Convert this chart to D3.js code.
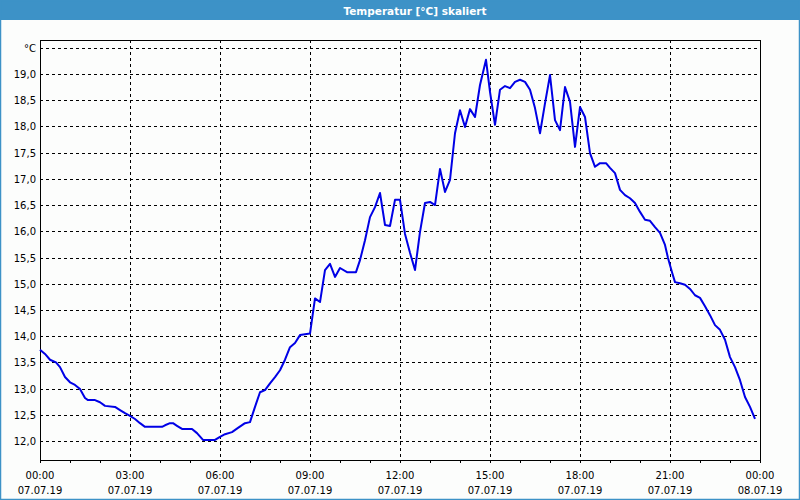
<!DOCTYPE html>
<html><head><meta charset="utf-8">
<script src="https://cdn.jsdelivr.net/npm/d3@7"></script>
<style>
html,body{margin:0;padding:0;background:#fcfdfc;}
svg{display:block;}
</style></head>
<body><svg id="c" width="800" height="500"></svg>
<script>
const title = "Temperatur [°C] skaliert";
// minutes since 07.07.19 00:00
const times = [0,10,20,32,40,50,60,70,80,90,96,110,120,130,150,160,170,180,190,200,210,230,244,250,260,266,274,284,304,314,326,350,
  360,370,384,396,410,420,430,440,450,460,470,480,490,500,510,520,540,550,560,570,580,590,600,614,632,
  640,650,660,670,680,690,700,710,720,730,740,750,760,770,780,790,800,810,820,830,840,850,860,870,880,892,
  900,910,920,930,940,950,960,970,980,990,1000,1010,1020,1030,1040,1050,1060,1070,1080,1090,1100,1110,1120,1132,
  1140,1150,1160,1170,1180,1190,1200,1210,1220,1230,1240,1250,1256,1264,1270,1280,1290,1300,1310,1320,1330,1340,1350,1360,1370,1380,1390,1400,1410,1420,1430];
const temps = [13.74,13.66,13.55,13.50,13.41,13.22,13.12,13.07,12.99,12.82,12.78,12.78,12.74,12.67,12.65,12.59,12.53,12.48,12.42,12.34,12.27,12.27,12.27,12.30,12.34,12.34,12.29,12.23,12.23,12.15,12.02,12.02,
  12.08,12.13,12.17,12.25,12.34,12.36,12.65,12.93,12.97,13.10,13.22,13.35,13.55,13.79,13.87,14.02,14.05,14.72,14.65,15.26,15.38,15.13,15.30,15.22,15.22,
  15.45,15.83,16.27,16.46,16.73,16.12,16.10,16.60,16.60,15.95,15.59,15.26,15.99,16.54,16.56,16.50,17.19,16.75,16.98,17.87,18.31,17.99,18.33,18.18,18.79,19.27,
  18.66,18.03,18.70,18.77,18.73,18.85,18.89,18.85,18.70,18.35,17.87,18.44,18.98,18.12,17.93,18.75,18.47,17.61,18.37,18.18,17.49,17.23,17.30,17.30,
  17.21,17.11,16.79,16.69,16.63,16.54,16.37,16.22,16.20,16.08,15.97,15.74,15.49,15.22,15.03,15.01,14.98,14.90,14.78,14.73,14.57,14.40,14.21,14.12,13.93,13.60,13.41,13.16,12.84,12.65,12.42];
const yTickValues = [12,12.5,13,13.5,14,14.5,15,15.5,16,16.5,17,17.5,18,18.5,19,19.5];
const yTickLabels = ["12,0","12,5","13,0","13,5","14,0","14,5","15,0","15,5","16,0","16,5","17,0","17,5","18,0","18,5","19,0","°C"];
const xTickValues = [0,180,360,540,720,900,1080,1260,1440];
const xTimeLabels = ["00:00","03:00","06:00","09:00","12:00","15:00","18:00","21:00","00:00"];
const xDateLabels = ["07.07.19","07.07.19","07.07.19","07.07.19","07.07.19","07.07.19","07.07.19","07.07.19","08.07.19"];
const hourTicks = d3.range(0,1441,60);

const svg = d3.select("#c");
const W=800,H=500, L=40,R=760,T=40,B=460;
const frameCol = "#3d92c7";
svg.append("rect").attr("x",0).attr("y",0).attr("width",W).attr("height",H).attr("fill","#fcfdfc");
svg.append("rect").attr("x",0).attr("y",0).attr("width",W).attr("height",20).attr("fill",frameCol);
svg.append("rect").attr("x",0.5).attr("y",0.5).attr("width",W-1).attr("height",H-1).attr("fill","none").attr("stroke",frameCol).attr("stroke-width",1.5);
svg.append("text").attr("x",415).attr("y",14.5).attr("text-anchor","middle")
  .attr("fill","#fff").attr("font-family","DejaVu Sans").attr("font-weight","bold").attr("font-size",10.5)
  .text(title);

const x = d3.scaleLinear().domain([0,1440]).range([L,R]);
const y = d3.scaleLinear().domain([12,19]).range([441,74]);

const font = "DejaVu Sans";
// horizontal grid
svg.append("g").selectAll("line").data(yTickValues).join("line")
  .attr("x1",L).attr("x2",R).attr("y1",d=>Math.round(y(d))+0.5).attr("y2",d=>Math.round(y(d))+0.5)
  .attr("stroke","#000").attr("stroke-dasharray","3,3").attr("shape-rendering","crispEdges");
// vertical grid
svg.append("g").selectAll("line").data(xTickValues.slice(1,-1)).join("line")
  .attr("x1",d=>Math.round(x(d))+0.5).attr("x2",d=>Math.round(x(d))+0.5).attr("y1",T).attr("y2",B)
  .attr("stroke","#000").attr("stroke-dasharray","3,3").attr("shape-rendering","crispEdges");

// y labels
svg.append("g").selectAll("text").data(yTickValues).join("text")
  .attr("x",36).attr("y",d=>y(d)+4).attr("text-anchor","end")
  .attr("font-family",font).attr("font-size",10).attr("fill","#000")
  .text((d,i)=>yTickLabels[i]);

// x axis ticks
const xAxis = d3.axisBottom(x).tickValues(hourTicks).tickSize(3).tickFormat("");
const gx = svg.append("g").attr("transform",`translate(0,${B})`).call(xAxis);
gx.select(".domain").remove();
gx.selectAll("line").attr("stroke","#000").attr("shape-rendering","crispEdges");

const xl = svg.append("g");
xl.selectAll("text.t").data(xTickValues).join("text").attr("class","t")
  .attr("x",d=>x(d)).attr("y",479).attr("text-anchor","middle")
  .attr("font-family",font).attr("font-size",10).attr("fill","#000")
  .text((d,i)=>xTimeLabels[i]);
xl.selectAll("text.d").data(xTickValues).join("text").attr("class","d")
  .attr("x",d=>x(d)).attr("y",494).attr("text-anchor","middle")
  .attr("font-family",font).attr("font-size",10).attr("fill","#000")
  .text((d,i)=>xDateLabels[i]);

// frame
svg.append("rect").attr("x",L+0.5).attr("y",T+0.5).attr("width",R-L).attr("height",B-T)
  .attr("fill","none").attr("stroke","#000").attr("shape-rendering","crispEdges");

// line
const line = d3.line().x((d,i)=>x(times[i])).y(d=>y(d));
svg.append("path").datum(temps).attr("d",line).attr("fill","none")
  .attr("stroke","#0000e6").attr("stroke-width",2).attr("stroke-linejoin","round");
</script></body></html>
